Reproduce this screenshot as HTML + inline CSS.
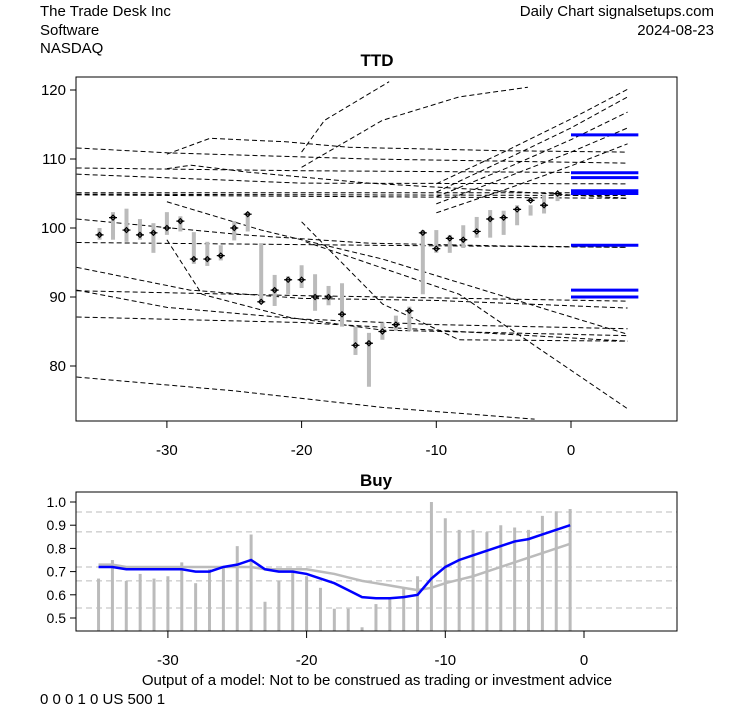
<!DOCTYPE html>
<html><head><meta charset="utf-8"><style>
body{margin:0;background:#fff;width:753px;height:708px;overflow:hidden}
svg text{font-family:"Liberation Sans",Arial,sans-serif}
</style></head><body>
<svg id="c" width="753" height="708" xmlns="http://www.w3.org/2000/svg">
<text x="40" y="16" font-size="15">The Trade Desk Inc</text>
<text x="40" y="35" font-size="15">Software</text>
<text x="40" y="53" font-size="15">NASDAQ</text>
<text x="714" y="16" font-size="15" text-anchor="end">Daily Chart signalsetups.com</text>
<text x="714" y="35" font-size="15" text-anchor="end">2024-08-23</text>
<text x="377" y="66" font-size="17" font-weight="bold" text-anchor="middle">TTD</text>
<text x="376" y="486" font-size="17" font-weight="bold" text-anchor="middle">Buy</text>
<text x="377" y="685" font-size="15" text-anchor="middle">Output of a model: Not to be construed as trading or investment advice</text>
<text x="40" y="704" font-size="15">0 0 0 1 0 US 500 1</text>
<g id="topg"></g><g id="botg"></g>
<rect x="76" y="77" width="601" height="344" fill="none" stroke="#000"/>
<rect x="76" y="492" width="601" height="139" fill="none" stroke="#000"/>
</svg>
<script>
const days=[-35,-34,-33,-32,-31,-30,-29,-28,-27,-26,-25,-24,-23,-22,-21,-20,-19,-18,-17,-16,-15,-14,-13,-12,-11,-10,-9,-8,-7,-6,-5,-4,-3,-2,-1];
const highs=[100,102.3,102.8,101.3,100.7,102.3,101.7,99.4,98,97.5,101,102.3,97.8,93.2,93,94.6,93.3,91.6,92,85.7,84.8,86.3,87.3,88.6,99.7,99.7,99,100.4,101.6,102.6,102.5,103.3,103.3,104.8,105.2];
const lows=[98.3,98.3,98,98.3,96.4,99,99.5,94.8,94.5,95.3,98.2,99.5,89.3,88.7,90.4,91.3,88,88.8,85.7,81.6,77,83.8,85.1,85.1,90.4,96.4,96.4,97.1,98.6,98.6,99,100.4,101.8,102.1,103.9];
const closes=[99,101.5,99.7,99,99.3,100,101,95.5,95.5,96,100,102,89.3,91,92.5,92.5,90,90,87.5,83,83.3,85,86,88,99.3,97,98.5,98.3,99.5,101.3,101.5,102.7,104,103.3,105];
const levels=[113.5,108,107.3,105.4,105,97.5,91,90];
const trendLines=[
[[-36.7,111.6],[-30,110.9],[-15,110],[4.2,109.4]],
[[-30,110.7],[-26.8,113],[-21.2,112.5],[-16.5,111.7],[-5,111.2],[4.2,111]],
[[-36.7,108.7],[-20,108.3],[4.2,108]],
[[-36.7,107.8],[-20,106.5],[4.2,106.4]],
[[-30,108.6],[-28.2,109.1],[-24,108.1],[-15,106.5],[4.2,104.3]],
[[-36.7,105.1],[4.2,105.1]],
[[-36.7,104.9],[4.2,104.7]],
[[-36.7,104.8],[4.2,104.3]],
[[-36.7,97.9],[-15,97.5],[4.2,97.2]],
[[-36.7,101.3],[-24.3,99],[-15,97.8],[-5,97.4],[4.2,97.2]],
[[-36.7,94.3],[-28.3,91],[-20,89.8],[-10,89.5],[4.2,88.4]],
[[-36.7,90.9],[-20,90.2],[4.2,89.4]],
[[-36.7,91],[-30,88.5],[-20,86.8],[-10,86],[4.2,85.4]],
[[-36.7,87.1],[-20,86.3],[4.2,83.6]],
[[-36.7,78.4],[-25,76.4],[-14,74],[-2.7,72.3]],
[[-30,103.8],[-23,99.7],[-14,95.5],[-5.5,90.4],[4.2,84.6]],
[[-30,98.3],[-27.4,90.4],[-20.8,87],[-14,85.2],[4.2,84.4]],
[[-20,100.9],[-14,89],[-8.3,83.8],[4.2,83.6]],
[[-19.7,98],[-8.3,90.4],[4.2,73.8]],
[[-20,111],[-18.3,115.6],[-13.5,121.2]],
[[-20,108.8],[-14,115.6],[-8.3,119],[-3.2,120.4]],
[[-10,106.4],[-5,111],[0,115.8],[4.2,120.1]],
[[-10,105.2],[-5,109.8],[0,114.5],[4.2,119]],
[[-10,104.5],[-5,108.5],[0,112.8],[4.2,116.8]],
[[-10,103.5],[-5,107.2],[0,111],[4.2,114.5]],
[[-10,102.2],[-5,105.5],[0,109],[4.2,112.2]]];
const buyVals=[0.67,0.75,0.66,0.69,0.67,0.68,0.74,0.65,0.71,0.72,0.81,0.86,0.57,0.66,0.71,0.68,0.63,0.54,0.54,0.46,0.56,0.58,0.63,0.68,1.0,0.93,0.88,0.88,0.87,0.90,0.89,0.88,0.94,0.96,0.97];
const blueLine=[0.72,0.72,0.71,0.71,0.71,0.71,0.71,0.70,0.70,0.72,0.73,0.75,0.71,0.70,0.70,0.69,0.67,0.65,0.62,0.59,0.585,0.585,0.59,0.60,0.67,0.72,0.75,0.77,0.79,0.81,0.83,0.84,0.86,0.88,0.90];
const grayLine=[0.73,0.73,0.72,0.72,0.72,0.72,0.72,0.72,0.72,0.72,0.72,0.72,0.71,0.71,0.71,0.71,0.70,0.69,0.675,0.66,0.65,0.64,0.63,0.62,0.63,0.65,0.665,0.68,0.70,0.72,0.74,0.76,0.78,0.80,0.82];
const buyGrid=[0.957,0.871,0.72,0.66,0.543];
const topYTicks=[80,90,100,110,120];
const xTicks=[-30,-20,-10,0];
const botYTicks=[0.5,0.6,0.7,0.8,0.9,1.0];

const NS='http://www.w3.org/2000/svg';
function mk(p,t,a){const e=document.createElementNS(NS,t);for(const k in a)e.setAttribute(k,a[k]);p.appendChild(e);return e;}
const xT=d=>571+d*13.47, yT=v=>228-(v-100)*6.9;
const xB=d=>584+d*13.87, yB=v=>502-(v-1)*232;
const topG=document.getElementById('topg'), botG=document.getElementById('botg');
topYTicks.forEach(v=>{
 const l=mk(topG,'line',{x1:70,x2:76,y1:yT(v),y2:yT(v),stroke:'#000'});
 
 
 const t=mk(topG,'text',{x:66,y:yT(v)+5,'font-size':15,'text-anchor':'end'});t.textContent=v;
 
 
});
xTicks.forEach(v=>{
 const l=mk(topG,'line',{x1:xT(v),x2:xT(v),y1:421,y2:428,stroke:'#000'});
 
 
 const t=mk(topG,'text',{x:xT(v),y:455,'font-size':15,'text-anchor':'middle'});t.textContent=v;
 
 
});
trendLines.forEach(ln=>{
 const p=mk(topG,'polyline',{points:ln.map(q=>xT(q[0])+','+yT(q[1])).join(' '),fill:'none',stroke:'#000','stroke-width':1,'stroke-dasharray':'5,3'});
 
 
});
levels.forEach(v=>{
 const l=mk(topG,'line',{x1:xT(0),x2:xT(5),y1:yT(v),y2:yT(v),stroke:'#0000ff','stroke-width':3});
 
 
});
days.forEach((d,i)=>{
 const l=mk(topG,'line',{x1:xT(d),x2:xT(d),y1:yT(highs[i]),y2:yT(lows[i]),stroke:'#bbb','stroke-width':4});
 
 
 const x=xT(d),y=yT(closes[i]);
 const m=mk(topG,'path',{d:`M${x-2.5},${y}L${x},${y-2.5}L${x+2.5},${y}L${x},${y+2.5}Z M${x-4},${y}L${x+4},${y}`,fill:'none',stroke:'#000','stroke-width':1.2});
 
 
});
buyGrid.forEach(v=>{
 const l=mk(botG,'line',{x1:76,x2:677,y1:yB(v),y2:yB(v),stroke:'#bbb','stroke-dasharray':'6,4'});
 
 
});
botYTicks.forEach(v=>{
 const l=mk(botG,'line',{x1:70,x2:76,y1:yB(v),y2:yB(v),stroke:'#000'});
 
 
 const t=mk(botG,'text',{x:66,y:yB(v)+5,'font-size':14,'text-anchor':'end'});t.textContent=v.toFixed(1);
 
 
});
xTicks.forEach(v=>{
 const l=mk(botG,'line',{x1:xB(v),x2:xB(v),y1:631,y2:638,stroke:'#000'});
 
 
 const t=mk(botG,'text',{x:xB(v),y:665,'font-size':15,'text-anchor':'middle'});t.textContent=v;
 
 
});
days.forEach((d,i)=>{
 const l=mk(botG,'line',{x1:xB(d),x2:xB(d),y1:631,y2:yB(buyVals[i]),stroke:'#bbb','stroke-width':3});
 
 
});
const g=mk(botG,'polyline',{points:days.map((d,i)=>xB(d)+','+yB(grayLine[i])).join(' '),fill:'none',stroke:'#bbb','stroke-width':2.5});


const b=mk(botG,'polyline',{points:days.map((d,i)=>xB(d)+','+yB(blueLine[i])).join(' '),fill:'none',stroke:'#0000ff','stroke-width':2.5});


</script>
</body></html>
